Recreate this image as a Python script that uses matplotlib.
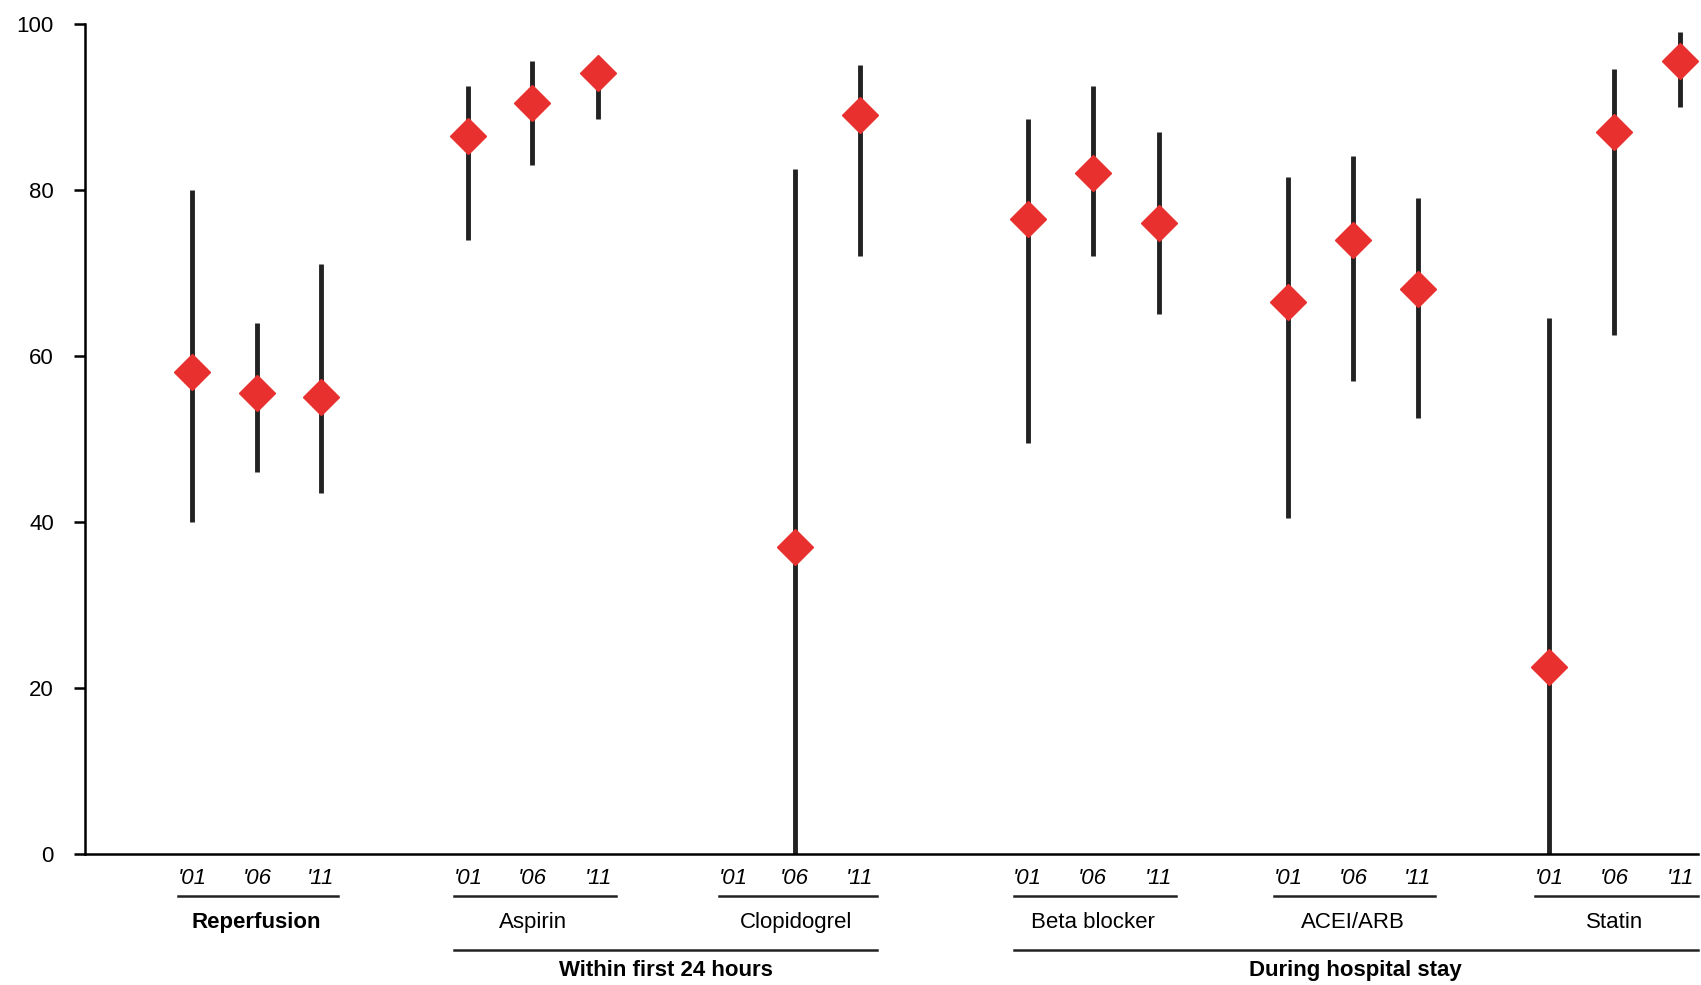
import numpy as np
import matplotlib
matplotlib.use('Agg')
import matplotlib.pyplot as plt

plt.rcParams['font.family'] = ['Liberation Sans', 'DejaVu Sans']

years = ["'01", "'06", "'11"]
groups = ["Reperfusion", "Aspirin", "Clopidogrel", "Beta blocker", "ACEI/ARB", "Statin"]
# x position of each year column (chart units)
xpos = [[177, 237, 296], [432, 491, 552], [676, 733, 793],
        [948, 1008, 1069], [1188, 1248, 1308], [1429, 1489, 1550]]
values = [[58, 55.5, 55], [86.5, 90.5, 94], [None, 37, 89],
          [76.5, 82, 76], [66.5, 74, 68], [22.5, 87, 95.5]]
low = [[40, 46, 43.5], [74, 83, 88.5], [None, 0, 72],
       [49.5, 72, 65], [40.5, 57, 52.5], [0, 62.5, 90]]
high = [[80, 64, 71], [92.5, 95.5, 96], [None, 82.5, 95],
        [88.5, 92.5, 87], [81.5, 84, 79], [64.5, 94.5, 99]]
supergroups = [("Within first 24 hours", 1, 2), ("During hospital stay", 3, 5)]

fig = plt.figure(figsize=(17.01, 9.85), dpi=100)
ax = fig.add_axes([0.0497, 0.133, 0.9483, 0.843])

for g in range(len(groups)):
    for i in range(3):
        if values[g][i] is None:
            continue
        ax.vlines(xpos[g][i], low[g][i], high[g][i], color='#222222', lw=3.5, zorder=2)
        ax.plot(xpos[g][i], values[g][i], 'D', color='#e8312f', markersize=18,
                markeredgecolor='#e8312f', zorder=3)

ax.set_xlim(78, 1566)
ax.set_ylim(0, 100)
ax.set_yticks(np.arange(0, 101, 20))
ax.set_xticks([])
ax.spines['top'].set_visible(False)
ax.spines['right'].set_visible(False)
for s in ['left', 'bottom']:
    ax.spines[s].set_linewidth(1.8)
ax.tick_params(axis='y', labelsize=16, width=1.8, length=8, pad=14)

tr = ax.get_xaxis_transform()
for g, name in enumerate(groups):
    for i in range(3):
        ax.text(xpos[g][i], -0.029, years[i], transform=tr, ha='center', va='center',
                fontsize=16, style='italic')
    x0, x1 = xpos[g][0] - 13, xpos[g][2] + 16
    ax.plot([x0, x1], [-0.051, -0.051], transform=tr, color='#222222', lw=1.8, clip_on=False)
    bold = 'bold' if name == "Reperfusion" else 'normal'
    ax.text((xpos[g][0] + xpos[g][2]) / 2, -0.082, name, transform=tr, ha='center',
            va='center', fontsize=16, fontweight=bold)

for name, g0, g1 in supergroups:
    x0, x1 = xpos[g0][0] - 13, xpos[g1][2] + 16
    ax.plot([x0, x1], [-0.116, -0.116], transform=tr, color='#222222', lw=1.8, clip_on=False)
    ax.text((x0 + x1) / 2, -0.140, name, transform=tr, ha='center', va='center',
            fontsize=16, fontweight='bold')

fig.savefig('out.png', dpi=100)
